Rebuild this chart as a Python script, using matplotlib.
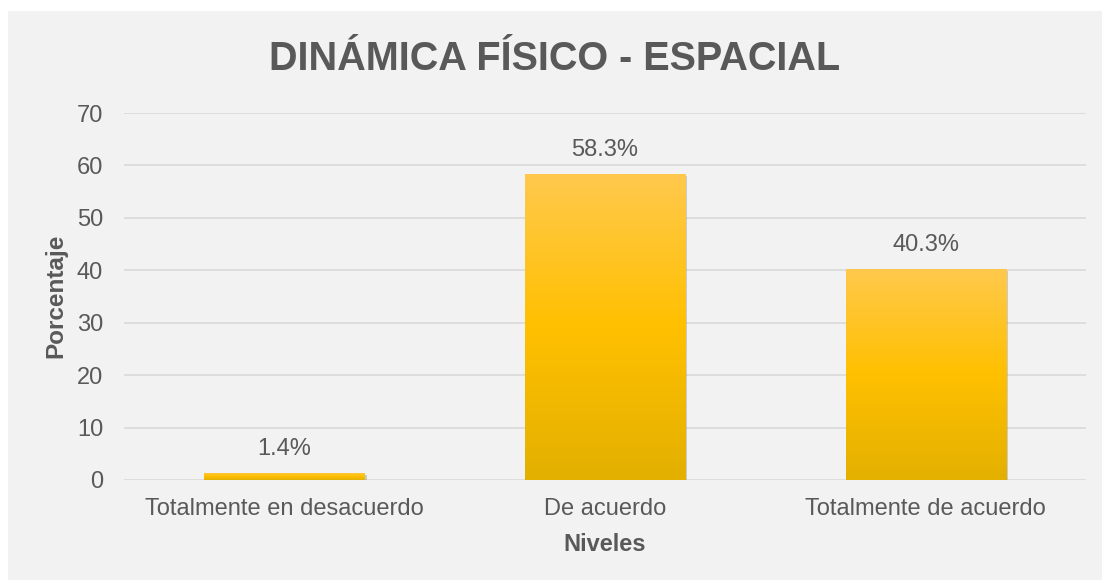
import matplotlib
matplotlib.use("Agg")
import matplotlib.pyplot as plt
import matplotlib.patheffects as pe
import numpy as np
from matplotlib.colors import LinearSegmentedColormap
from matplotlib.patches import Rectangle


categories = ["Totalmente en desacuerdo", "De acuerdo", "Totalmente de acuerdo"]
values = [1.4, 58.3, 40.3]
labels = ["1.4%", "58.3%", "40.3%"]
yticks = [0, 10, 20, 30, 40, 50, 60, 70]

TEXT = "#595959"
GRID = "#d9d9d9"
BG = "#f2f2f2"

plt.rcParams["font.family"] = ["Liberation Sans", "DejaVu Sans"]

fig = plt.figure(figsize=(11.02, 5.8), dpi=100)
fig.patch.set_facecolor("white")
fig.patches.append(Rectangle((8 / 1102, 0), 1, 1 - 11 / 580, transform=fig.transFigure,
                             facecolor=BG, edgecolor="none", zorder=-10))

ax = fig.add_axes([124 / 1102, 1 - 480 / 580, (1086 - 124) / 1102, (480 - 113) / 580])
ax.set_facecolor("none")

x = np.arange(len(categories))
bars = ax.bar(x, values, width=0.5, color="#ffc000", zorder=2,
              path_effects=[pe.SimplePatchShadow(offset=(1.5, -1.5), shadow_rgbFace="#808080", alpha=0.35),
                            pe.Normal()])

# vertical gradient like the office fill
cmap = LinearSegmentedColormap.from_list("gold", [(0, "#ffc94d"), (0.5, "#ffc000"), (1, "#e3b000")])
grad = np.linspace(0, 1, 256).reshape(-1, 1)
for b in bars:
    x0, w, h = b.get_x(), b.get_width(), b.get_height()
    im = ax.imshow(grad, extent=[x0, x0 + w, 0, h], aspect="auto", cmap=cmap,
                   origin="upper", zorder=3, interpolation="bilinear")
    im.set_clip_path(b)

for xi, v, lab in zip(x, values, labels):
    ax.annotate(lab, (xi, v), xytext=(0, 13), textcoords="offset points",
                ha="center", va="baseline", fontsize=17, color=TEXT)

ax.set_xlim(-0.5, 2.5)
ax.set_ylim(0, 70)
ax.set_yticks(yticks)
ax.set_xticks(x)
ax.set_xticklabels(categories)
ax.tick_params(axis="both", length=0, labelsize=17, labelcolor=TEXT)
ax.tick_params(axis="x", pad=13)
ax.tick_params(axis="y", pad=15)
ax.grid(axis="y", color=GRID, linewidth=1.2)
ax.set_axisbelow(True)
for s in ax.spines.values():
    s.set_visible(False)

fig.text(555 / 1102, 1 - 70 / 580, "DINÁMICA FÍSICO - ESPACIAL", ha="center", va="baseline",
         fontsize=28.5, fontweight="bold", color=TEXT)
fig.text(605 / 1102, 1 - 551 / 580, "Niveles", ha="center", va="baseline",
         fontsize=17, fontweight="bold", color=TEXT)
fig.text(56 / 1102, 1 - 296 / 580, "Porcentaje", ha="center", va="center", rotation=90,
         fontsize=17.5, fontweight="bold", color=TEXT)

fig.savefig("out.png", dpi=100, facecolor=fig.get_facecolor())
